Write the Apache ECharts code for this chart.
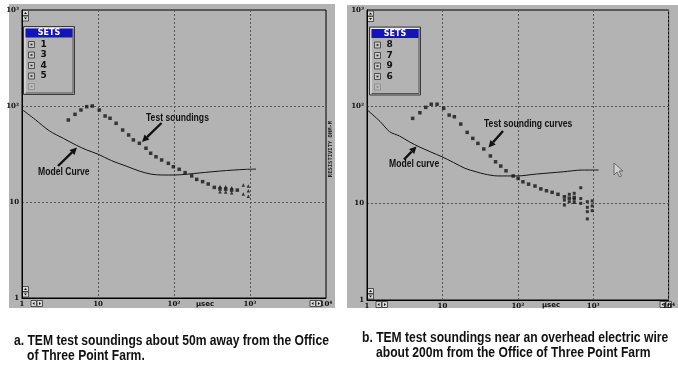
<!DOCTYPE html>
<html>
<head>
<meta charset="utf-8">
<script src="https://cdn.jsdelivr.net/npm/echarts@6/dist/echarts.min.js"></script>
<style>
  html, body { margin: 0; padding: 0; background: #fff; }
  #chart { width: 678px; height: 366px; }
</style>
</head>
<body>
<div id="chart"></div>
<script>
// panel a: model curve
const modelXA = [1, 1.5, 2.3, 3.5, 5.2, 7, 10, 15, 24, 35, 50, 70, 100, 150, 220, 400, 600, 900, 1200]
const modelYA = [92, 72, 55, 46, 39, 35, 31.5, 27, 23.5, 21, 19.5, 19.1, 19.1, 19.5, 20.1, 21, 21.5, 21.9, 22]
// panel a: test soundings (set 1) and scattered points of sets 3,4,5
const soundXA = [4.07, 4.98, 5.97, 7.1, 8.4, 10.4, 12.4, 14.4, 17.3, 21.1, 25.3, 29.2, 35, 42.8, 49.3, 58, 68.8, 84.2, 98, 117, 140, 171, 199, 238, 282, 339, 403, 479, 574, 681]
const soundYA = [71.5, 81.9, 90.9, 98.4, 100, 90.9, 78.7, 74.5, 66, 56.2, 49.9, 44.3, 40.9, 36.3, 32.2, 29.6, 27.4, 25.3, 23.3, 21.9, 20.2, 18.7, 17.2, 16.3, 15.4, 14.2, 13.65, 13.6, 13.3, 13.3]
const tailXA = [403, 479, 574, 403, 479, 574, 817, 950, 950, 817, 950]
const tailYA = [14.5, 14.4, 14.1, 12.8, 12.7, 12.5, 15.0, 14.7, 13.1, 12.1, 11.5]

// panel b: model curve
const modelXB = [1, 1.5, 2, 2.7, 3.7, 4.9, 7, 9.9, 14, 20, 28, 36, 54, 98, 178, 400, 720, 1180]
const modelYB = [93, 70, 55, 49.7, 43, 38.5, 34, 30.3, 26.5, 23, 21.2, 20.1, 19.2, 19.2, 20.1, 21.2, 22.1, 22.1]
// panel b: test sounding curves (set 7) and scattered points of sets 8,9,6
const soundXB = [4.03, 5.03, 6.01, 7.11, 8.5, 10.4, 12.3, 14.4, 17.5, 21.3, 25.3, 29.6, 35.4, 43.3, 50.7, 59.4, 69.8, 86.9, 101, 117, 139, 169, 202, 240, 285, 341, 415, 482, 560]
const soundYB = [75.7, 86.5, 98.4, 106, 106, 96, 81.8, 78.7, 66.1, 54.2, 47, 41.7, 36.5, 30.9, 26.9, 24.3, 21.7, 19.2, 18.1, 16.7, 15.8, 15.1, 14.1, 13.5, 13, 12.4, 11.7, 11.3, 11.5]
const tailXB = [415, 415, 482, 482, 560, 560, 560, 684, 684, 684, 836, 836, 836, 836, 970, 970, 970]
const tailYB = [10.8, 9.6, 12.4, 10.4, 12.7, 11.0, 10.2, 14.5, 11.2, 10.0, 10.4, 9.1, 8.2, 6.9, 10.6, 9.4, 8.4]

const setsA = ['1', '3', '4', '5', '']
const setsB = ['8', '7', '9', '6', '']

const GRAY = '#b3b3b3'
const INK = '#141414'

const zip = (xs, ys) => xs.map((x, i) => [x, ys[i]])

const sup = { 2: '²', 3: '³', 4: '⁴' }
const decadeLabel = (v) => {
  const e = Math.round(Math.log10(v))
  return e < 2 ? String(Math.round(v)) : '10' + sup[e]
}

const axisFont = { color: '#111', fontSize: 7, fontWeight: 'bold', fontFamily: 'DejaVu Serif' }
const gridLine = { show: true, lineStyle: { color: '#555', type: [2, 2], width: 1 } }

const xAxisFor = (gi) => ({
  type: 'log', logBase: 10, min: 1, max: 10000, gridIndex: gi,
  axisLine: { show: true, lineStyle: { color: '#000' } },
  axisTick: { show: false },
  axisLabel: { ...axisFont, margin: 3, formatter: decadeLabel },
  splitLine: gridLine,
})
const yAxisFor = (gi) => ({
  type: 'log', logBase: 10, min: 1, max: 1000, gridIndex: gi,
  axisLine: { show: true, lineStyle: { color: '#000' } },
  axisTick: { show: false },
  axisLabel: { ...axisFont, margin: 3, formatter: decadeLabel },
  splitLine: gridLine,
})

// little widgets of the plotting program
function spinV(x, y) {
  return {
    type: 'group', children: [
      { type: 'rect', shape: { x: x, y: y, width: 6, height: 5 }, style: { fill: '#d8d8d8', stroke: '#333', lineWidth: 0.8 } },
      { type: 'rect', shape: { x: x, y: y + 5.5, width: 6, height: 5 }, style: { fill: '#d8d8d8', stroke: '#333', lineWidth: 0.8 } },
      { type: 'polygon', shape: { points: [[x + 1.5, y + 3.5], [x + 4.5, y + 3.5], [x + 3, y + 1.5]] }, style: { fill: '#111' } },
      { type: 'polygon', shape: { points: [[x + 1.5, y + 7], [x + 4.5, y + 7], [x + 3, y + 9]] }, style: { fill: '#111' } },
    ]
  }
}
function spinH(x, y) {
  return {
    type: 'group', children: [
      { type: 'rect', shape: { x: x, y: y, width: 5.5, height: 6 }, style: { fill: '#d8d8d8', stroke: '#333', lineWidth: 0.8 } },
      { type: 'rect', shape: { x: x + 6, y: y, width: 5.5, height: 6 }, style: { fill: '#d8d8d8', stroke: '#333', lineWidth: 0.8 } },
      { type: 'polygon', shape: { points: [[x + 3.5, y + 1.5], [x + 3.5, y + 4.5], [x + 1.5, y + 3]] }, style: { fill: '#111' } },
      { type: 'polygon', shape: { points: [[x + 8, y + 1.5], [x + 8, y + 4.5], [x + 10, y + 3]] }, style: { fill: '#111' } },
    ]
  }
}

function setsBox(x, y, labels) {
  const w = 51, h = 68
  const kids = [
    { type: 'rect', shape: { x: x, y: y, width: w, height: h }, style: { fill: GRAY, stroke: '#3a3a3a', lineWidth: 1 } },
    { type: 'polyline', shape: { points: [[x + 1.5, y + h - 1.5], [x + 1.5, y + 1.5], [x + w - 1.5, y + 1.5]] }, style: { stroke: '#eee', lineWidth: 1, fill: null } },
    { type: 'polyline', shape: { points: [[x + 2, y + h - 1.5], [x + w - 1.5, y + h - 1.5], [x + w - 1.5, y + 2]] }, style: { stroke: '#555', lineWidth: 1, fill: null } },
    { type: 'rect', shape: { x: x + 2, y: y + 2, width: w - 4, height: 9 }, style: { fill: '#1414b8' } },
    { type: 'text', x: x + w / 2, y: y + 6.8, style: { text: 'SETS', fill: '#fff', fontSize: 8, fontWeight: 'bold', fontFamily: 'DejaVu Sans', align: 'center', verticalAlign: 'middle' } },
  ]
  labels.forEach((lb, i) => {
    const cy = y + 18 + i * 10.5
    const faded = lb === ''
    kids.push({ type: 'rect', shape: { x: x + 5, y: cy - 3, width: 6, height: 6 }, style: { fill: faded ? '#bdbdbd' : '#c8c8c8', stroke: faded ? '#888' : '#333', lineWidth: 0.8 } })
    kids.push({ type: 'rect', shape: { x: x + 7, y: cy - 0.8, width: 2, height: 1.6 }, style: { fill: faded ? '#888' : '#222' } })
    if (!faded) {
      kids.push({ type: 'text', x: x + 17, y: cy, style: { text: lb, fill: '#111', fontSize: 9, fontWeight: 'bold', fontFamily: 'DejaVu Sans', verticalAlign: 'middle' } })
    }
  })
  return { type: 'group', children: kids }
}

function arrow(x1, y1, x2, y2) {
  const a = Math.atan2(y2 - y1, x2 - x1)
  const L = 7, W = 3.5
  const bx = x2 - L * Math.cos(a), by = y2 - L * Math.sin(a)
  const nx = -Math.sin(a) * W, ny = Math.cos(a) * W
  return {
    type: 'group', children: [
      { type: 'line', shape: { x1: x1, y1: y1, x2: bx, y2: by }, style: { stroke: '#111', lineWidth: 2.4 } },
      { type: 'polygon', shape: { points: [[x2, y2], [bx + nx, by + ny], [bx - nx, by - ny]] }, style: { fill: '#111' } },
    ]
  }
}

// condensed bold text, like the narrow font of the original figure
const labelText = (x, y, text) => ({
  type: 'text', x: x, y: y, scaleX: 0.86,
  style: { text: text, fill: '#111', fontSize: 10, fontWeight: 'bold', fontFamily: 'Liberation Sans', verticalAlign: 'middle' }
})
const caption = (x, y, text) => ({
  type: 'text', x: x, y: y, scaleX: 0.865,
  style: { text: text, fill: '#111', fontSize: 14, fontWeight: 'bold', fontFamily: 'Liberation Sans', verticalAlign: 'middle' }
})

const chart = echarts.init(document.getElementById('chart'))

const option = {
  animation: false,
  backgroundColor: '#fff',
  grid: [
    { left: 22, top: 10, width: 304, height: 288, show: true, backgroundColor: GRAY, borderColor: '#000', borderWidth: 1 },
    { left: 367, top: 10, width: 307, height: 290, show: true, backgroundColor: GRAY, borderColor: '#000', borderWidth: 1 },
  ],
  xAxis: [xAxisFor(0), xAxisFor(1)],
  yAxis: [yAxisFor(0), yAxisFor(1)],
  series: [
    {
      name: 'Model Curve', type: 'line', xAxisIndex: 0, yAxisIndex: 0,
      data: zip(modelXA, modelYA), showSymbol: false, smooth: 0.3,
      lineStyle: { color: INK, width: 1 }, z: 3,
    },
    {
      name: 'set 1', type: 'scatter', xAxisIndex: 0, yAxisIndex: 0,
      data: zip(soundXA, soundYA), symbol: 'rect', symbolSize: 3.5,
      itemStyle: { color: INK }, z: 4,
    },
    {
      name: 'sets 3-5', type: 'scatter', xAxisIndex: 0, yAxisIndex: 0,
      data: zip(tailXA, tailYA), symbol: 'triangle', symbolSize: 3.5,
      itemStyle: { color: INK }, z: 4,
    },
    {
      name: 'Model curve', type: 'line', xAxisIndex: 1, yAxisIndex: 1,
      data: zip(modelXB, modelYB), showSymbol: false, smooth: 0.3,
      lineStyle: { color: INK, width: 1 }, z: 3,
    },
    {
      name: 'set 7', type: 'scatter', xAxisIndex: 1, yAxisIndex: 1,
      data: zip(soundXB, soundYB), symbol: 'rect', symbolSize: 3.5,
      itemStyle: { color: INK }, z: 4,
    },
    {
      name: 'sets 8,9,6', type: 'scatter', xAxisIndex: 1, yAxisIndex: 1,
      data: zip(tailXB, tailYB), symbol: 'rect', symbolSize: 3,
      itemStyle: { color: INK }, z: 4,
    },
  ],
  graphic: [
    // outer window backgrounds
    { type: 'rect', z: -10, shape: { x: 9, y: 4, width: 326, height: 304 }, style: { fill: GRAY } },
    { type: 'rect', z: -10, shape: { x: 347, y: 5, width: 331, height: 303 }, style: { fill: GRAY } },

    setsBox(23.5, 26.5, setsA),
    setsBox(369.5, 27, setsB),

    spinV(22.5, 10.5), spinV(22.5, 286.5), spinH(31, 300.5), spinH(310, 300.5),
    spinV(367.5, 11), spinV(367.5, 288.5), spinH(376, 301.5), spinH(660, 301.5),

    { type: 'text', x: 205, y: 304, style: { text: 'μsec', fill: '#111', fontSize: 7, fontWeight: 'bold', fontFamily: 'DejaVu Sans', align: 'center', verticalAlign: 'middle' } },
    { type: 'text', x: 551, y: 305, style: { text: 'μsec', fill: '#111', fontSize: 7, fontWeight: 'bold', fontFamily: 'DejaVu Sans', align: 'center', verticalAlign: 'middle' } },
    { type: 'text', x: 331, y: 149, rotation: Math.PI / 2, style: { text: 'RESISTIVITY OHM-M', fill: '#222', fontSize: 5.5, fontWeight: 'bold', fontFamily: 'DejaVu Sans Mono', align: 'center', verticalAlign: 'middle' } },

    labelText(146, 118, 'Test soundings'),
    arrow(161.5, 123, 142, 142),
    labelText(38, 172, 'Model Curve'),
    arrow(58, 166, 77, 147.5),

    labelText(484, 124.5, 'Test sounding curves'),
    arrow(503, 131, 488.5, 147.5),
    labelText(389, 164, 'Model curve'),
    arrow(404, 159.5, 416.5, 146.5),

    // mouse cursor
    { type: 'polygon', shape: { points: [[614, 163], [614, 175], [617, 172], [619.5, 177], [621.5, 176], [619, 171], [623, 171]] }, style: { fill: '#d0d0d0', stroke: '#555', lineWidth: 0.8 } },

    caption(14, 341, 'a. TEM test soundings about 50m away from the Office'),
    caption(27, 356, 'of Three Point Farm.'),
    caption(362, 338, 'b. TEM test soundings near an overhead electric wire'),
    caption(376, 353, 'about 200m from the Office of Three Point Farm'),
  ],
}

chart.setOption(option)
</script>
</body>
</html>
